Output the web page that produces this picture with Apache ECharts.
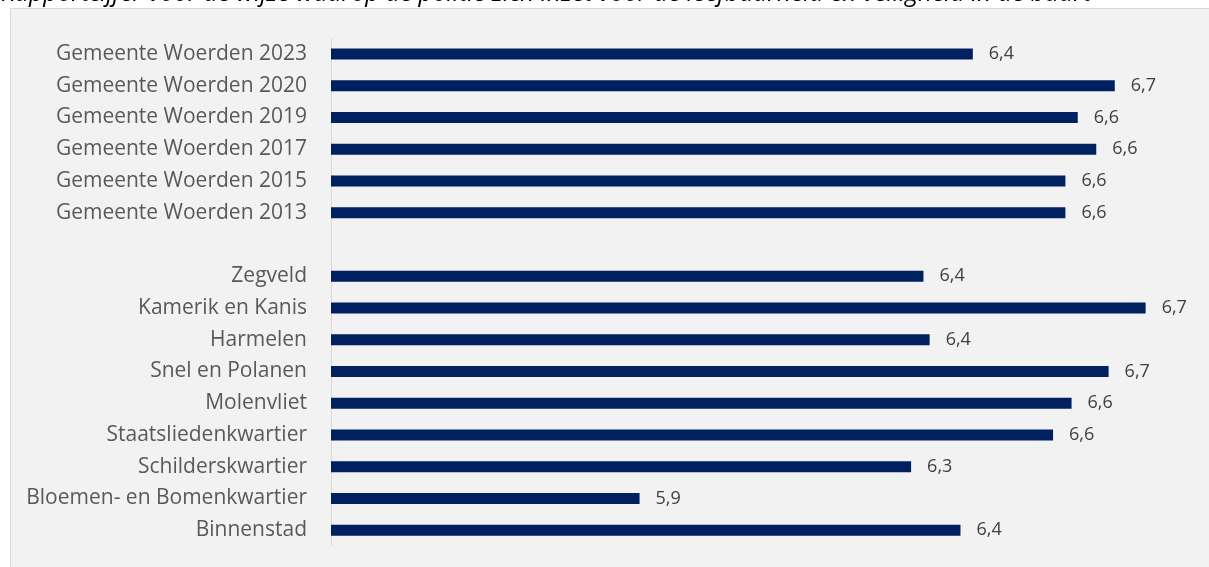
<!DOCTYPE html>
<html>
<head>
<meta charset="utf-8">
<script src="https://cdn.jsdelivr.net/npm/echarts@6/dist/echarts.min.js"></script>
<style>
html,body{margin:0;padding:0;background:#ffffff;}
#chart{width:1209px;height:567px;}
</style>
</head>
<body>
<div id="chart"></div>
<script>
const titleText = 'Rapportcijfer voor de wijze waarop de politie zich inzet voor de leefbaarheid en veiligheid in de buurt';
const categories = [
  'Gemeente Woerden 2023','Gemeente Woerden 2020','Gemeente Woerden 2019','Gemeente Woerden 2017',
  'Gemeente Woerden 2015','Gemeente Woerden 2013','',
  'Zegveld','Kamerik en Kanis','Harmelen','Snel en Polanen','Molenvliet',
  'Staatsliedenkwartier','Schilderskwartier','Bloemen- en Bomenkwartier','Binnenstad'
];
const values = [
  6.44, 6.67, 6.61, 6.64,
  6.59, 6.59, null,
  6.36, 6.72, 6.37, 6.66, 6.60,
  6.57, 6.34, 5.90, 6.42
];
const axisMin = 5.4;
const axisMax = 6.8;

const chart = echarts.init(document.getElementById('chart'));
chart.setOption({
  backgroundColor: '#ffffff',
  animation: false,
  graphic: [
    { type: 'rect', left: 10, top: 8, shape: { width: 1210, height: 570 },
      style: { fill: '#f2f2f2', stroke: '#d9d9d9', lineWidth: 1 }, z: -10 },
    { type: 'text', left: 1, top: -19,
      style: { text: titleText, font: 'italic 24.6px "Open Sans"', fill: '#000000' } }
  ],
  grid: { left: 331, top: 38, right: 14, bottom: 21, containLabel: false },
  xAxis: { type: 'value', min: axisMin, max: axisMax, show: false },
  yAxis: {
    type: 'category', data: categories, inverse: true,
    axisLine: { show: true, lineStyle: { color: '#d9d9d9', width: 1 } },
    axisTick: { show: false },
    axisLabel: { color: '#595959', fontFamily: 'Open Sans', fontSize: 21, margin: 24 }
  },
  series: [{
    type: 'bar', data: values, barWidth: 11,
    itemStyle: { color: '#002060' },
    label: {
      show: true, position: 'right', distance: 16,
      color: '#404040', fontFamily: 'Open Sans', fontSize: 18,
      formatter: p => p.value == null ? '' : Number(p.value).toFixed(1).replace('.', ',')
    }
  }]
});
</script>
</body>
</html>
